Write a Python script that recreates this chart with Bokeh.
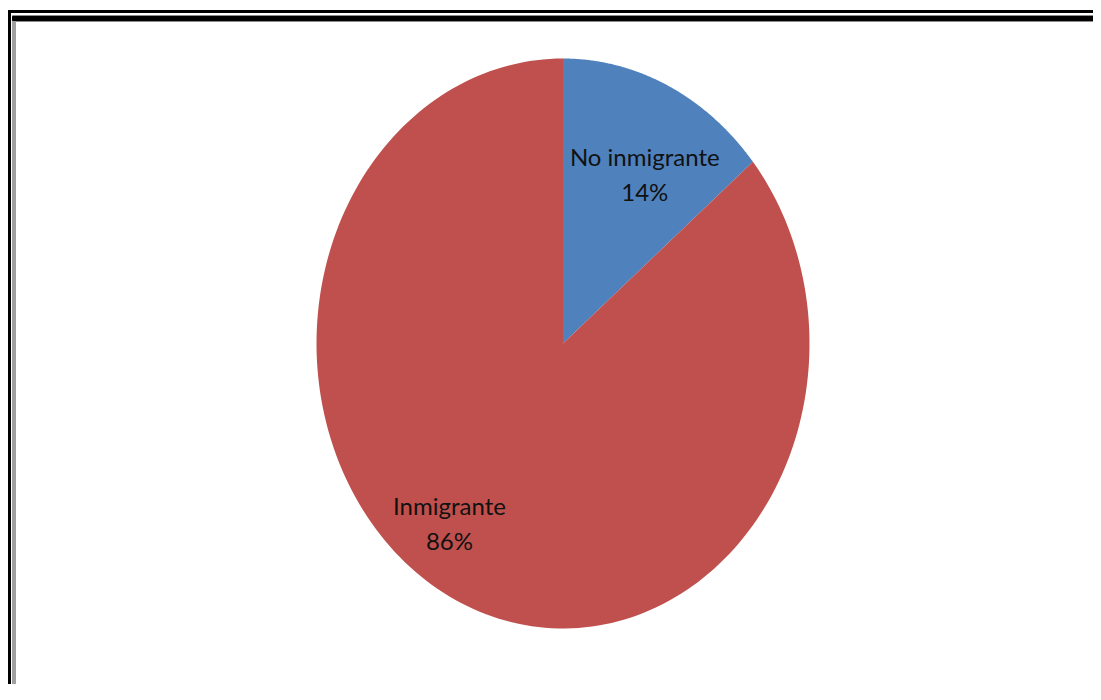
import numpy as np
from bokeh.plotting import figure
from bokeh.models import Range1d, ColumnDataSource
from bokeh.core.properties import value
from bokeh.embed import file_html
from bokeh.resources import INLINE

# ---- data ----
categories = ["No inmigrante", "Inmigrante"]
shares = [14, 86]
colors = ["#4F81BD", "#C0504D"]

# ---- layout constants ----
W, H = 1093, 684
cx, cy = 562.5, 343.0          # pie centre (px)
rx, ry = 246.5, 285.0          # elliptical radii
label_r = [0.68, 0.78]
label_shift_deg = [4.0, 11.0]
line_gap = 17.5

p = figure(width=W, height=H, output_backend="svg", toolbar_location=None,
           x_range=Range1d(0, W), y_range=Range1d(H, 0),
           min_border=0, outline_line_color=None)
p.axis.visible = False
p.grid.visible = False
p.background_fill_color = "white"
p.border_fill_color = "white"

# frame lines of the original picture
p.quad(left=[8], right=[1101], top=[10], bottom=[12], color="black")
p.quad(left=[12], right=[1101], top=[15], bottom=[21], color="#8c8c8c")
p.quad(left=[12], right=[1101], top=[16], bottom=[20], color="black")
p.quad(left=[8], right=[10], top=[10], bottom=[700], color="black")
p.quad(left=[12], right=[15], top=[21], bottom=[700], color="#a0a0a0")

# pie slices (clockwise from 12 o'clock), drawn on an ellipse
total = float(sum(shares))
start = 0.0
xs, ys, lx, ly = [], [], [], []
for i, s in enumerate(shares):
    ang0 = start
    ang1 = start + 2 * np.pi * s / total
    t = np.linspace(ang0, ang1, 200)
    px = np.concatenate([[cx], cx + rx * np.sin(t), [cx]])
    py = np.concatenate([[cy], cy - ry * np.cos(t), [cy]])
    xs.append(list(px))
    ys.append(list(py))
    mid = (ang0 + ang1) / 2 + np.deg2rad(label_shift_deg[i])
    lx.append(cx + label_r[i] * rx * np.sin(mid))
    ly.append(cy - label_r[i] * ry * np.cos(mid))
    start = ang1

p.patches(xs=xs, ys=ys, fill_color=colors, line_color=None)

pct = [f"{s}%" for s in shares]
src = ColumnDataSource(dict(x=lx, y1=[y - line_gap for y in ly],
                            y2=[y + line_gap for y in ly],
                            name=categories, pct=pct))
p.text(x="x", y="y1", text="name", source=src, text_align="center",
       text_baseline="middle", text_font=value("Lato"),
       text_font_size="24px", text_color="#111111")
p.text(x="x", y="y2", text="pct", source=src, text_align="center",
       text_baseline="middle", text_font=value("Lato"),
       text_font_size="24px", text_color="#111111")

open("out.html", "w").write(file_html(p, INLINE))
